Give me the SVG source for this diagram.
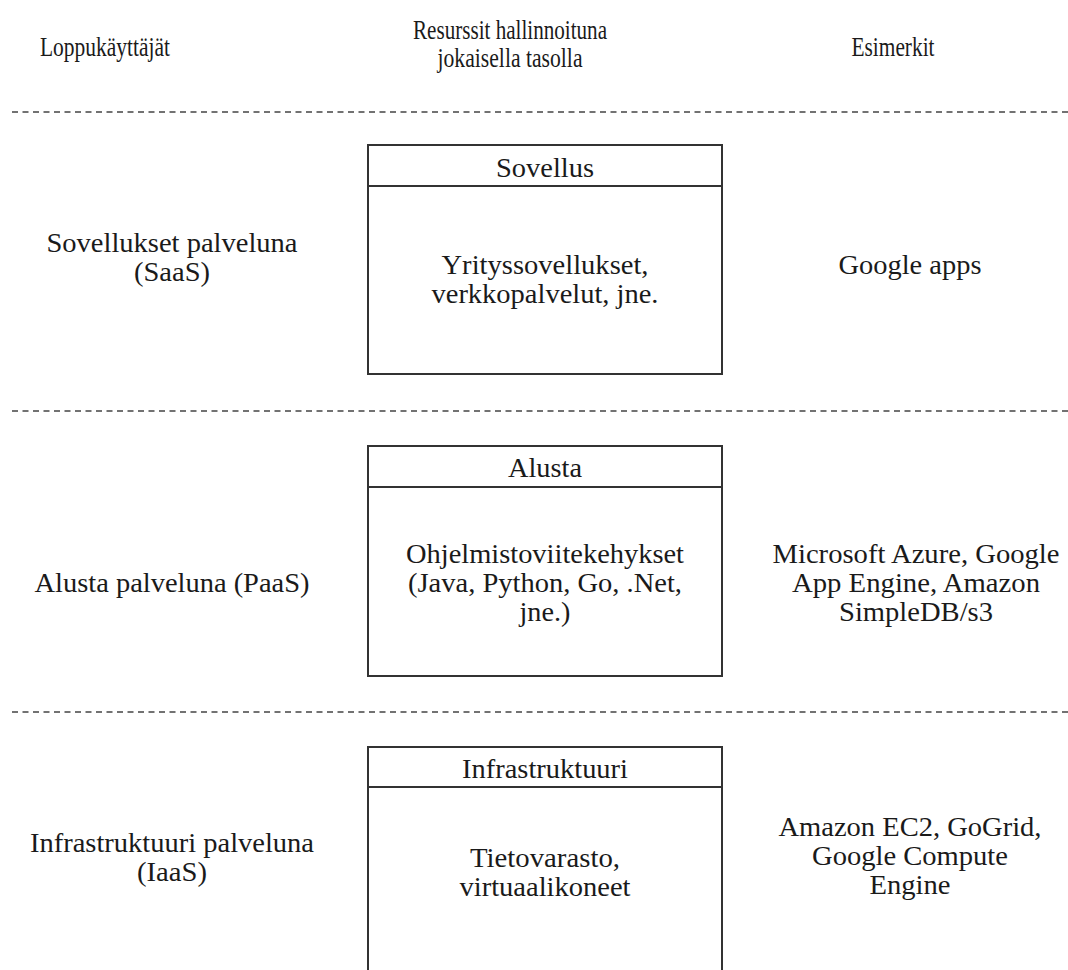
<svg xmlns="http://www.w3.org/2000/svg" width="1068" height="970" viewBox="0 0 1068 970">
<style>
text{font-family:"Liberation Serif","Times New Roman",serif;fill:#1a1a1a;text-anchor:middle}
.t{font-size:27.5px}
.h{font-size:28px}
.box{fill:#fff;stroke:#333;stroke-width:2}
.sep{stroke:#444;stroke-width:1.6;stroke-dasharray:6 4.5;fill:none}
</style>
<rect width="1068" height="970" fill="#fff"/>
<g id="connectors">
<line class="sep" x1="12" y1="112" x2="1068" y2="112"/>
<line class="sep" x1="12" y1="411" x2="1068" y2="411"/>
<line class="sep" x1="12" y1="712" x2="1068" y2="712"/>
</g>
<g id="header">
<text class="h" x="105" y="56" textLength="130" lengthAdjust="spacingAndGlyphs">Loppukäyttäjät</text>
<text class="h" x="510" y="39" textLength="194" lengthAdjust="spacingAndGlyphs">Resurssit hallinnoituna</text>
<text class="h" x="510" y="67" textLength="145" lengthAdjust="spacingAndGlyphs">jokaisella tasolla</text>
<text class="h" x="893" y="56" textLength="83" lengthAdjust="spacingAndGlyphs">Esimerkit</text>
</g>
<g id="saas-label">
<text class="t" x="172" y="252" textLength="251" lengthAdjust="spacingAndGlyphs">Sovellukset palveluna</text>
<text class="t" x="172" y="281" textLength="76" lengthAdjust="spacingAndGlyphs">(SaaS)</text>
</g>
<g id="saas-box">
<rect class="box" x="368" y="145" width="354" height="229"/>
<line class="box" x1="368" y1="186" x2="722" y2="186"/>
<text class="t" x="545" y="177" textLength="98" lengthAdjust="spacingAndGlyphs">Sovellus</text>
<text class="t" x="545" y="274" textLength="207" lengthAdjust="spacingAndGlyphs">Yrityssovellukset,</text>
<text class="t" x="545" y="303" textLength="227" lengthAdjust="spacingAndGlyphs">verkkopalvelut, jne.</text>
</g>
<g id="saas-example">
<text class="t" x="910" y="274" textLength="143" lengthAdjust="spacingAndGlyphs">Google apps</text>
</g>
<g id="paas-label">
<text class="t" x="172" y="592" textLength="275" lengthAdjust="spacingAndGlyphs">Alusta palveluna (PaaS)</text>
</g>
<g id="paas-box">
<rect class="box" x="368" y="446" width="354" height="230"/>
<line class="box" x1="368" y1="487" x2="722" y2="487"/>
<text class="t" x="545" y="477" textLength="74" lengthAdjust="spacingAndGlyphs">Alusta</text>
<text class="t" x="545" y="563" textLength="278" lengthAdjust="spacingAndGlyphs">Ohjelmistoviitekehykset</text>
<text class="t" x="545" y="592" textLength="274" lengthAdjust="spacingAndGlyphs">(Java, Python, Go, .Net,</text>
<text class="t" x="545" y="621" textLength="51" lengthAdjust="spacingAndGlyphs">jne.)</text>
</g>
<g id="paas-example">
<text class="t" x="916" y="563" textLength="287" lengthAdjust="spacingAndGlyphs">Microsoft Azure, Google</text>
<text class="t" x="916" y="592" textLength="248" lengthAdjust="spacingAndGlyphs">App Engine, Amazon</text>
<text class="t" x="916" y="621" textLength="154" lengthAdjust="spacingAndGlyphs">SimpleDB/s3</text>
</g>
<g id="iaas-label">
<text class="t" x="172" y="852" textLength="284" lengthAdjust="spacingAndGlyphs">Infrastruktuuri palveluna</text>
<text class="t" x="172" y="881" textLength="70" lengthAdjust="spacingAndGlyphs">(IaaS)</text>
</g>
<g id="iaas-box">
<rect class="box" x="368" y="747" width="354" height="240"/>
<line class="box" x1="368" y1="787" x2="722" y2="787"/>
<text class="t" x="545" y="778" textLength="166" lengthAdjust="spacingAndGlyphs">Infrastruktuuri</text>
<text class="t" x="545" y="867" textLength="150" lengthAdjust="spacingAndGlyphs">Tietovarasto,</text>
<text class="t" x="545" y="896" textLength="171" lengthAdjust="spacingAndGlyphs">virtuaalikoneet</text>
</g>
<g id="iaas-example">
<text class="t" x="910" y="836" textLength="263" lengthAdjust="spacingAndGlyphs">Amazon EC2, GoGrid,</text>
<text class="t" x="910" y="865" textLength="196" lengthAdjust="spacingAndGlyphs">Google Compute</text>
<text class="t" x="910" y="894" textLength="81" lengthAdjust="spacingAndGlyphs">Engine</text>
</g>
</svg>
